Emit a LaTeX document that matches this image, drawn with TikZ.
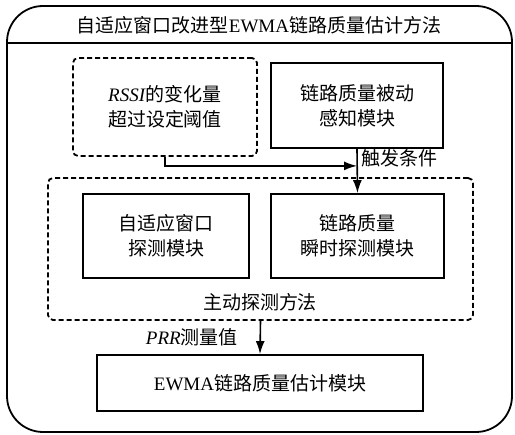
\documentclass[tikz,border=0pt]{standalone}
\usepackage{fontspec}
\setmainfont{Liberation Serif}
\newfontfamily\cjk{Noto Sans CJK SC}
\newcommand{\lat}[1]{{\rmfamily #1}}
\usetikzlibrary{arrows.meta}
\tikzset{
  txt/.style={font=\cjk\fontsize{19}{25}\selectfont, align=center, inner sep=0pt},
  sbox/.style={txt, draw, line width=1.8pt},
  dbox/.style={draw, line width=1.8pt, dash pattern=on 5pt off 3pt, rounded corners=5pt, inner sep=0pt},
  arr/.style={line width=1.6pt, -{Latex[length=13pt,width=9pt]}}
}
\begin{document}
\begin{tikzpicture}[x=1pt,y=-1pt]
\useasboundingbox (0,0) rectangle (515,435);
% outer frame
\draw[line width=1.8pt, rounded corners=36pt] (7,6) rectangle (512,432);
\draw[line width=1.8pt] (7,43) -- (512,43);
\node[txt] (title) at (259,25) {自适应窗口改进型\lat{EWMA}链路质量估计方法};
% top boxes
\node[dbox, txt, minimum width=184pt, minimum height=98pt] (rssi) at (165,107) {\lat{\textit{RSSI}}的变化量\\超过设定阈值};
\node[sbox, minimum width=172pt, minimum height=85pt] (passive) at (357,105.5) {链路质量被动\\感知模块};
% main dashed box
\node[dbox, minimum width=425pt, minimum height=142pt] (main) at (260.5,249) {};
\node[sbox, minimum width=166pt, minimum height=84pt] (adapt) at (166,236) {自适应窗口\\探测模块};
\node[sbox, minimum width=173pt, minimum height=84pt] (instant) at (357.5,236) {链路质量\\瞬时探测模块};
\node[txt] (active) at (260,302) {主动探测方法};
% EWMA box
\node[sbox, minimum width=326pt, minimum height=56pt] (ewma) at (260,383) {\lat{EWMA}链路质量估计模块};
% connectors
\draw[arr] (passive.south) -- (instant.north);
\path (passive.south) ++(0,17) coordinate (j);
\draw[arr] (rssi.south) |- (j);
\node[txt, anchor=west] (trig) at (361,158) {触发条件};
\draw[arr] (main.south) -- (ewma.north);
\node[txt, anchor=east] (prr) at (238,337) {\lat{\textit{PRR}}测量值};
\end{tikzpicture}
\end{document}
